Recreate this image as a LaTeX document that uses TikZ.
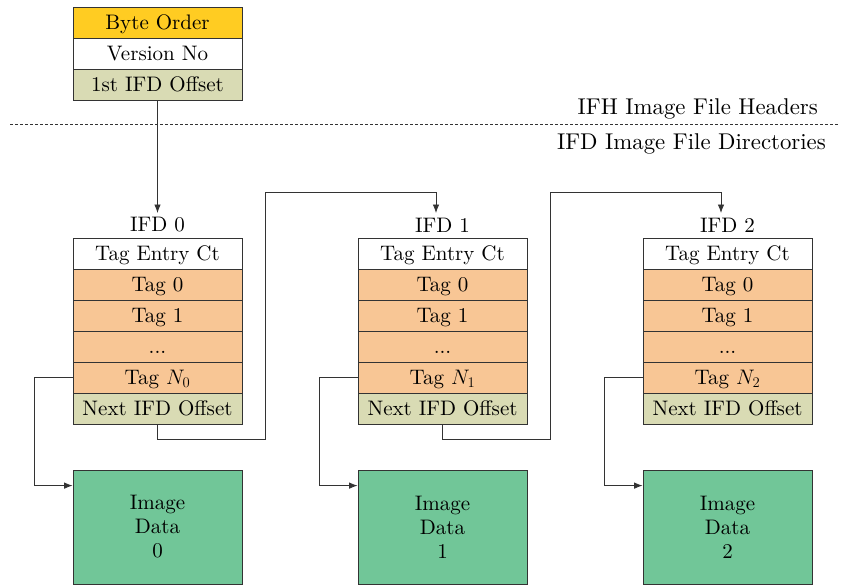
\RequirePackage{fix-cm}
\documentclass[tikz,border=0pt]{standalone}
\usepackage{fontspec}
\setmainfont{lmroman10-regular.otf}
\usetikzlibrary{arrows.meta,calc}
\definecolor{cyel}{HTML}{FFCC22}
\definecolor{corg}{HTML}{F8C695}
\definecolor{coli}{HTML}{D9DBB4}
\definecolor{cgrn}{HTML}{71C698}
\definecolor{cline}{HTML}{333333}
\begin{document}
\begin{tikzpicture}[x=1pt,y=-1pt,
  every node/.style={font=\fontsize{21}{24}\selectfont},
  cell/.style={draw=cline, line width=0.8pt, minimum width=169pt, minimum height=31pt, inner sep=0pt, text height=17pt, text depth=3pt, anchor=center},
  imgbox/.style={draw=cline, line width=0.8pt, fill=cgrn, minimum width=169pt, minimum height=114pt, inner sep=0pt, align=center},
  lbl/.style={inner sep=1pt},
  hdr/.style={inner sep=1pt, anchor=east, font=\fontsize{22.8}{26}\selectfont},
  conn/.style={draw=cline, line width=0.8pt},
  arr/.style={conn, -{Latex[length=8.5pt,width=6.5pt]}}]
\useasboundingbox (0,0) rectangle (842,584);
% header
\node[cell, fill=cyel] (h1) at (157.5,22.5) {Byte Order};
\node[cell, fill=white] (h2) at (157.5,53.5) {Version No};
\node[cell, fill=coli] (h3) at (157.5,84.5) {1st IFD Offset};
\draw[dash pattern=on 3pt off 2pt, line width=0.6pt, draw=cline] (10,124) -- (838,124);
\node[hdr] (tifh) at (819,109) {IFH Image File Headers};
\node[hdr] (tifd) at (827,144) {IFD Image File Directories};
% IFDs
\foreach \i/\x in {0/157.5,1/442.5,2/727.5}{
  \node[lbl] (lab\i) at (\x,225) {IFD \i};
  \node[cell, fill=white] (e\i) at (\x,253.5) {Tag Entry Ct};
  \node[cell, fill=corg] (ta\i) at (\x,284.5) {Tag 0};
  \node[cell, fill=corg] (tb\i) at (\x,315.5) {Tag 1};
  \node[cell, fill=corg] (tc\i) at (\x,346.5) {...};
  \node[cell, fill=corg] (tn\i) at (\x,377.5) {Tag $N_{\i}$};
  \node[cell, fill=coli] (n\i) at (\x,408.5) {Next IFD Offset};
  \node[imgbox] (img\i) at (\x,527) {Image\\Data\\\i};
  \draw[arr] (tn\i.west) -- ++(-38,0) |- ([yshift=-16pt]img\i.north west);
}
\draw[arr] (h3.south) -- (h3.south |- 0,213);
\coordinate (c01) at (265.5,192.5);
\coordinate (c12) at (550.5,192.5);
\draw[arr] (n0.south) -- ++(0,15) -| (c01) -| (436,213);
\draw[arr] (n1.south) -- ++(0,15) -| (c12) -| (721,213);
\end{tikzpicture}
\end{document}
